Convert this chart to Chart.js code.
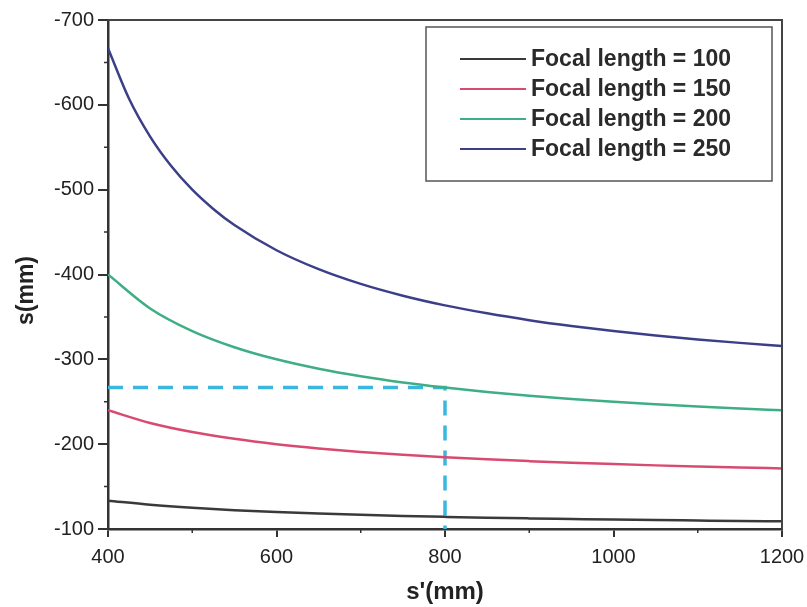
<!DOCTYPE html>
<html>
<head>
<meta charset="utf-8">
<script src="https://cdn.jsdelivr.net/npm/chart.js@4/dist/chart.umd.min.js"></script>
<style>
  html, body { margin: 0; padding: 0; background: #fff; }
  #wrap { width: 807px; height: 607px; }
</style>
</head>
<body>
<div id="wrap"><canvas id="lensChart" width="807" height="607"></canvas></div>
<script>
// image distance s' (mm)
const sPrime = [400, 450, 500, 550, 600, 650, 700, 750, 800, 850, 900, 950, 1000, 1050, 1100, 1150, 1200];
// the f = 250 curve bends hard near 400, so it is sampled more closely there
const sPrimeFine = [400, 425, 450, 475, 500, 525, 550, 600, 650, 700, 750, 800, 850, 900, 950, 1000, 1050, 1100, 1150, 1200];

// object distance s (mm) per focal length
const sF100 = [-133.3, -128.6, -125.0, -122.2, -120.0, -118.2, -116.7, -115.4, -114.3, -113.3, -112.5, -111.8, -111.1, -110.5, -110.0, -109.5, -109.1];
const sF150 = [-240.0, -225.0, -214.3, -206.3, -200.0, -195.0, -190.9, -187.5, -184.6, -182.1, -180.0, -178.1, -176.5, -175.0, -173.7, -172.5, -171.4];
const sF200 = [-400.0, -360.0, -333.3, -314.3, -300.0, -288.9, -280.0, -272.7, -266.7, -261.5, -257.1, -253.3, -250.0, -247.1, -244.4, -242.1, -240.0];
const sF250 = [-666.7, -607.1, -562.5, -527.8, -500.0, -477.3, -458.3, -428.6, -406.3, -388.9, -375.0, -363.6, -354.2, -346.2, -339.3, -333.3, -328.1, -323.5, -319.4, -315.8];

const seriesLabels = ['Focal length = 100', 'Focal length = 150', 'Focal length = 200', 'Focal length = 250'];
const seriesColors = ['#3a3a3a', '#d84b70', '#3fae84', '#3c3f88'];

// read-off guide at s' = 800
const guideX = [400, 800, 800];
const guideY = [-266.7, -266.7, -100];

const xTicks = [400, 600, 800, 1000, 1200];
const yTicks = [-700, -600, -500, -400, -300, -200, -100];

const toPoints = (xs, ys) => xs.map((x, i) => ({ x: x, y: ys[i] }));

const FONT = '"Liberation Sans", Arial, sans-serif';

// minor ticks, top/right frame and the boxed legend
const framePlugin = {
    id: 'frame',
    afterDraw(chart) {
        const ctx = chart.ctx;
        const { left, right, top, bottom } = chart.chartArea;
        const xs = chart.scales.x, ys = chart.scales.y;

        ctx.save();
        ctx.strokeStyle = '#444';
        ctx.lineWidth = 2;
        ctx.beginPath();
        ctx.moveTo(left, top); ctx.lineTo(right, top); ctx.lineTo(right, bottom);
        ctx.stroke();

        ctx.strokeStyle = '#333';
        ctx.lineWidth = 1.5;
        ctx.beginPath();
        for (let v = -650; v < -100; v += 100) {
            const y = ys.getPixelForValue(v);
            ctx.moveTo(left - 4, y); ctx.lineTo(left, y);
        }
        for (let v = 500; v < 1200; v += 200) {
            const x = xs.getPixelForValue(v);
            ctx.moveTo(x, bottom); ctx.lineTo(x, bottom + 4);
        }
        ctx.stroke();

        // legend
        const bx = 426, by = 27, bw = 346, bh = 154;
        ctx.fillStyle = '#fff';
        ctx.fillRect(bx, by, bw, bh);
        ctx.strokeStyle = '#555';
        ctx.lineWidth = 1.5;
        ctx.strokeRect(bx, by, bw, bh);

        ctx.font = 'bold 23px ' + FONT;
        ctx.textBaseline = 'middle';
        ctx.textAlign = 'left';
        seriesLabels.forEach((label, i) => {
            const y = 59 + i * 30;
            ctx.strokeStyle = seriesColors[i];
            ctx.lineWidth = 2;
            ctx.beginPath();
            ctx.moveTo(460, y); ctx.lineTo(526, y);
            ctx.stroke();
            ctx.fillStyle = '#2a2a2a';
            ctx.fillText(label, 531, y + 1);
        });
        ctx.restore();
    }
};

const seriesX = [sPrime, sPrime, sPrime, sPrimeFine];
const seriesY = [sF100, sF150, sF200, sF250];

const datasets = seriesLabels.map((label, i) => ({
    label: label,
    data: toPoints(seriesX[i], seriesY[i]),
    borderColor: seriesColors[i],
    borderWidth: 2.5,
    pointRadius: 0,
    cubicInterpolationMode: 'monotone',
    fill: false
}));

datasets.push({
    label: 'guide',
    data: toPoints(guideX, guideY),
    borderColor: '#3bb6de',
    borderWidth: 3.5,
    borderDash: [15, 10],
    pointRadius: 0,
    tension: 0,
    fill: false
});

new Chart(document.getElementById('lensChart'), {
    type: 'line',
    data: { datasets: datasets },
    plugins: [framePlugin],
    options: {
        responsive: false,
        animation: false,
        layout: { padding: { top: 20, right: 25, bottom: 0, left: 0 } },
        plugins: { legend: { display: false }, tooltip: { enabled: false } },
        scales: {
            x: {
                type: 'linear',
                min: 400,
                max: 1200,
                afterBuildTicks: (scale) => { scale.ticks = xTicks.map(v => ({ value: v })); },
                afterFit: (scale) => {
                    scale.height = 78;
                    // the end labels may hang past the plot edges
                    scale.paddingLeft = 0;
                    scale.paddingRight = 0;
                },
                border: { display: true, color: '#333', width: 2.5 },
                grid: { drawOnChartArea: false, drawTicks: true, tickLength: 8, tickColor: '#333', lineWidth: 2 },
                ticks: {
                    color: '#222',
                    padding: 8,
                    maxRotation: 0,
                    callback: (v) => String(v),
                    font: { family: FONT, size: 20 }
                },
                title: {
                    display: true,
                    text: "s'(mm)",
                    color: '#222',
                    padding: { top: 0, bottom: 0 },
                    font: { family: FONT, size: 24, weight: 'bold' }
                }
            },
            y: {
                type: 'linear',
                min: -700,
                max: -100,
                reverse: true,
                afterBuildTicks: (scale) => { scale.ticks = yTicks.map(v => ({ value: v })); },
                afterFit: (scale) => {
                    scale.width = 108;
                    scale.paddingTop = 0;
                    scale.paddingBottom = 0;
                },
                border: { display: true, color: '#333', width: 2.5 },
                grid: { drawOnChartArea: false, drawTicks: true, tickLength: 10, tickColor: '#333', lineWidth: 2 },
                ticks: {
                    color: '#222',
                    padding: 4,
                    callback: (v) => String(v),
                    font: { family: FONT, size: 20 }
                },
                title: {
                    display: true,
                    text: 's(mm)\u00a0\u00a0\u00a0\u00a0\u00a0',
                    color: '#222',
                    padding: { top: 13, bottom: 0 },
                    font: { family: FONT, size: 23, weight: 'bold' }
                }
            }
        }
    }
});
</script>
</body>
</html>
